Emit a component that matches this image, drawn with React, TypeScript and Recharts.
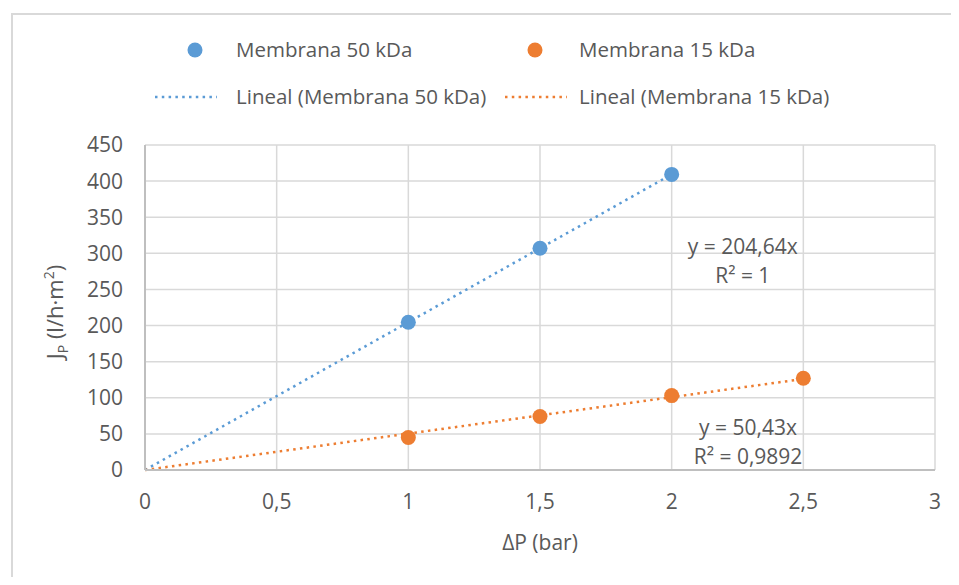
import React from 'react';
import {
  ComposedChart,
  Scatter,
  Line,
  XAxis,
  YAxis,
  CartesianGrid,
  ReferenceDot
} from 'recharts';

const BLUE = '#5B9BD5';
const ORANGE = '#ED7D31';
const TEXT = '#595959';
const FONT = '"Open Sans", sans-serif';

// measured points
const membrana50 = [
  { x: 1, y: 204.6 },
  { x: 1.5, y: 307 },
  { x: 2, y: 409.3 }
];
const membrana15 = [
  { x: 1, y: 45 },
  { x: 1.5, y: 74 },
  { x: 2, y: 103 },
  { x: 2.5, y: 127 }
];

// linear trend lines (through origin)
const lineal50 = [
  { x: 0, y: 0 },
  { x: 2, y: 409.28 }
];
const lineal15 = [
  { x: 0, y: 0 },
  { x: 2.5, y: 126.08 }
];

const xTicks = [0, 0.5, 1, 1.5, 2, 2.5, 3];
const yTicks = [0, 50, 100, 150, 200, 250, 300, 350, 400, 450];

const eq50 = ['y = 204,64x', 'R² = 1'];
const eq15 = ['y = 50,43x', 'R² = 0,9892'];

const legendItems = [
  { label: 'Membrana 50 kDa', color: BLUE, dot: true, markLeft: 155, textLeft: 236, cy: 50 },
  { label: 'Membrana 15 kDa', color: ORANGE, dot: true, markLeft: 495, textLeft: 579, cy: 50 },
  { label: 'Lineal (Membrana 50 kDa)', color: BLUE, dot: false, markLeft: 155, textLeft: 236, cy: 97 },
  { label: 'Lineal (Membrana 15 kDa)', color: ORANGE, dot: false, markLeft: 505, textLeft: 579, cy: 97 }
];

const fmt = (v: number) => String(v).replace('.', ',');

const EquationLabel = ({ viewBox, lines }: any) => {
  const { x, y } = viewBox;
  return (
    <text x={x} y={y} textAnchor="middle" fill={TEXT} fontSize={21} fontFamily={FONT}>
      <tspan x={x} dy={0}>{lines[0]}</tspan>
      <tspan x={x} dy={29}>{lines[1]}</tspan>
    </text>
  );
};

const LegendBox = () => (
  <svg width={959} height={130} style={{ position: 'absolute', left: 0, top: 0 }}>
    {legendItems.map(it => (
      <g key={it.label}>
        {it.dot ? (
          <circle cx={it.markLeft + 40} cy={it.cy} r={7.5} fill={it.color} />
        ) : (
          <line x1={it.markLeft} y1={it.cy} x2={it.markLeft + 62} y2={it.cy} stroke={it.color} strokeWidth={2.5} strokeDasharray="2.5 4.3" />
        )}
        <text x={it.textLeft} y={it.cy} dy="0.35em" fill={TEXT} fontSize={20.5} fontFamily={FONT}>
          {it.label}
        </text>
      </g>
    ))}
  </svg>
);

export default function App() {
  return (
    <div style={{ position: 'relative', width: 959, height: 585, margin: -8, background: '#fff', overflow: 'hidden' }}>
      <div style={{ position: 'absolute', left: 11, top: 13, width: 960, height: 600, borderTop: '2px solid #d9d9d9', borderLeft: '2px solid #d9d9d9' }} />
      <LegendBox />
      <ComposedChart
        width={959}
        height={585}
        margin={{ top: 145, right: 24, left: 85, bottom: 35 }}
        style={{ position: 'absolute', left: 0, top: 0 }}
      >
        <CartesianGrid stroke="#d9d9d9" strokeWidth={1.5} />
        <XAxis
          type="number"
          dataKey="x"
          domain={[0, 3]}
          ticks={xTicks}
          tickFormatter={fmt}
          interval={0}
          stroke="#bfbfbf"
          strokeWidth={2}
          tickLine={false}
          tickSize={0}
          tickMargin={24}
          height={80}
          tick={{ fill: TEXT, fontSize: 21, fontFamily: FONT }}
          label={{ value: 'ΔP (bar)', position: 'insideBottom', offset: 0, fill: TEXT, fontSize: 21, fontFamily: FONT }}
        />
        <YAxis
          type="number"
          dataKey="y"
          domain={[0, 450]}
          ticks={yTicks}
          interval={0}
          stroke="#bfbfbf"
          strokeWidth={2}
          tickLine={false}
          tickSize={0}
          tickMargin={22}
          width={60}
          tick={{ fill: TEXT, fontSize: 21, fontFamily: FONT }}
        />
        <Line
          data={lineal50}
          dataKey="y"
          stroke={BLUE}
          strokeWidth={2.5}
          strokeDasharray="2.5 4.3"
          dot={false}
          activeDot={false}
          isAnimationActive={false}
        />
        <Line
          data={lineal15}
          dataKey="y"
          stroke={ORANGE}
          strokeWidth={2.5}
          strokeDasharray="2.5 4.3"
          dot={false}
          activeDot={false}
          isAnimationActive={false}
        />
        <Scatter data={membrana50} fill={BLUE} shape={(p: any) => <circle cx={p.cx} cy={p.cy} r={7.5} fill={BLUE} />} isAnimationActive={false} />
        <Scatter data={membrana15} fill={ORANGE} shape={(p: any) => <circle cx={p.cx} cy={p.cy} r={7.5} fill={ORANGE} />} isAnimationActive={false} />
        <ReferenceDot x={2.27} y={299} r={0} label={<EquationLabel lines={eq50} />} />
        <ReferenceDot x={2.29} y={48} r={0} label={<EquationLabel lines={eq15} />} />
        <text x={63} y={312} transform="rotate(-90 63 312)" textAnchor="middle" fill={TEXT} fontSize={22} fontFamily={FONT}>
          J<tspan fontSize={14} dy={5}>P</tspan>
          <tspan dy={-5}> (l/h·m</tspan>
          <tspan fontSize={14} dy={-9}>2</tspan>
          <tspan dy={9}>)</tspan>
        </text>
      </ComposedChart>
    </div>
  );
}
